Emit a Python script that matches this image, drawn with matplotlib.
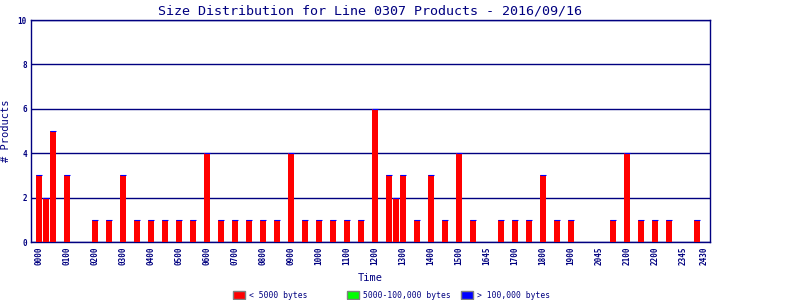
import matplotlib
matplotlib.use("Agg")
import matplotlib.pyplot as plt
from matplotlib.patches import Rectangle

# 15-minute slots along the time axis that have products, and their counts
slots = [0, 1, 2, 4, 8, 10, 12, 14, 16, 18, 20, 22, 24, 26, 28, 30, 32, 34,
         36, 38, 40, 42, 44, 46, 48, 50, 51, 52, 54, 56, 58, 60, 62, 66, 68,
         70, 72, 74, 76, 82, 84, 86, 88, 90, 94]
small = [3, 2, 5, 3, 1, 1, 3, 1, 1, 1, 1, 1, 4, 1, 1, 1, 1, 1,
         4, 1, 1, 1, 1, 1, 6, 3, 2, 3, 1, 3, 1, 4, 1, 1, 1,
         1, 3, 1, 1, 1, 4, 1, 1, 1, 1]

tick_slots = [0, 4, 8, 12, 16, 20, 24, 28, 32, 36, 40, 44, 48, 52, 56, 60,
              64, 68, 72, 76, 80, 84, 88, 92, 95]
tick_labels = ["0000", "0100", "0200", "0300", "0400", "0500", "0600", "0700",
               "0800", "0900", "1000", "1100", "1200", "1300", "1400", "1500",
               "1645", "1700", "1800", "1900", "2045", "2100", "2200", "2345",
               "2430"]

legend_labels = ["< 5000 bytes", "5000-100,000 bytes", "> 100,000 bytes"]
legend_colors = ["#ff0000", "#00ff00", "#0000ff"]

navy = "#000080"
W, H = 800, 300
plt.rcParams["font.family"] = ["DejaVu Sans Mono"]

fig = plt.figure(figsize=(8, 3), dpi=100)
ax = fig.add_axes([31 / W, (H - 242) / H, (710 - 31) / W, (242 - 20) / H])

bw = 6 / 7
ax.bar(slots, small, width=bw, color="#ff0000", linewidth=0, zorder=3)
# thin blue cap on top of each bar
ax.hlines(small, [s - bw / 2 for s in slots], [s + bw / 2 for s in slots],
          color="#0000ff", linewidth=0.8, zorder=4)

ax.set_xlim(-8 / 7, 671 / 7)
ax.set_ylim(0, 10)
ax.set_yticks([0, 2, 4, 6, 8, 10])
ax.set_xticks(tick_slots)
ax.set_xticklabels(tick_labels, rotation=90)
ax.tick_params(length=0, colors=navy, labelsize=5.5, pad=3)
for lab in ax.get_xticklabels() + ax.get_yticklabels():
    lab.set_fontweight("bold")
ax.grid(axis="y", color=navy, linewidth=1, zorder=1)
for sp in ax.spines.values():
    sp.set_color(navy)
    sp.set_linewidth(1)

ax.set_xlabel("Time", color=navy, fontsize=7.5, labelpad=6)
ax.set_ylabel("# Products", color=navy, fontsize=7.5, labelpad=5)
ax.set_title("Size Distribution for Line 0307 Products - 2016/09/16",
             color=navy, fontsize=9.6, pad=4)

# legend drawn in fixed slots like the original
for i, (lab, col) in enumerate(zip(legend_labels, legend_colors)):
    x0 = 233 + 114 * i
    fig.add_artist(Rectangle((x0 / W, (H - 299) / H), 12 / W, 8 / H,
                             transform=fig.transFigure, facecolor=col,
                             edgecolor="#808080", linewidth=1))
    fig.text((x0 + 16) / W, (H - 295) / H, lab, color=navy, fontsize=5.8,
             va="center", ha="left")

fig.savefig("out.png", dpi=100)
